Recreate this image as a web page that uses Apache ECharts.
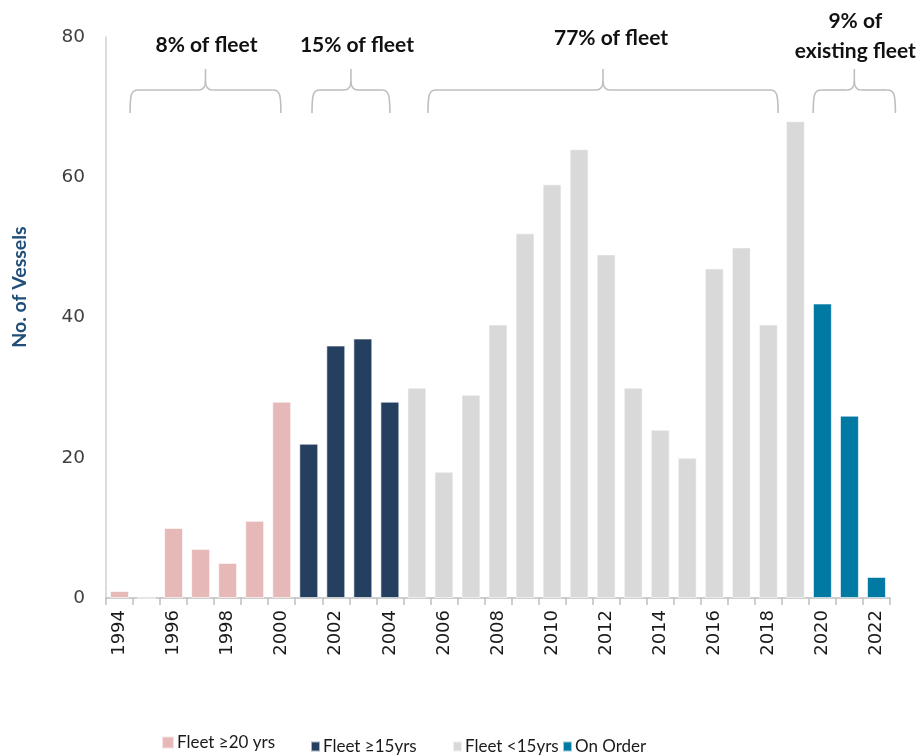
<!DOCTYPE html>
<html>
<head>
<meta charset="utf-8">
<script src="https://cdn.jsdelivr.net/npm/echarts@6/dist/echarts.min.js"></script>
<style>
  html, body { margin: 0; padding: 0; background: #ffffff; }
  #chart { width: 921px; height: 755px; }
</style>
</head>
<body>
<div id="chart"></div>
<script>
// Build years
const years = ['1994','1995','1996','1997','1998','1999','2000','2001','2002','2003','2004','2005','2006','2007',
  '2008','2009','2010','2011','2012','2013','2014','2015','2016','2017','2018','2019','2020','2021','2022'];

// Vessels by build year, split by age group ('-' = not in that group)
const fleet20Plus = [1, 0, 10, 7, 5, 11, 28, '-', '-', '-', '-', '-', '-', '-', '-', '-', '-', '-', '-', '-', '-', '-', '-', '-', '-', '-', '-', '-', '-'];
const fleet15Plus = ['-', '-', '-', '-', '-', '-', '-', 22, 36, 37, 28, '-', '-', '-', '-', '-', '-', '-', '-', '-', '-', '-', '-', '-', '-', '-', '-', '-', '-'];
const fleetUnder15 = ['-', '-', '-', '-', '-', '-', '-', '-', '-', '-', '-', 30, 18, 29, 39, 52, 59, 64, 49, 30, 24, 20, 47, 50, 39, 68, '-', '-', '-'];
const onOrder = ['-', '-', '-', '-', '-', '-', '-', '-', '-', '-', '-', '-', '-', '-', '-', '-', '-', '-', '-', '-', '-', '-', '-', '-', '-', '-', 42, 26, 3];

const seriesNames = ['Fleet ≥20 yrs', 'Fleet ≥15yrs', 'Fleet <15yrs', 'On Order'];
const seriesColors = ['#E6B9B8', '#243F60', '#D9D9D9', '#0079A3'];

const yTicks = { min: 0, max: 80, interval: 20 };

// Bracket annotations: span in category units measured from the axis start
const bracketLabels = [['8% of fleet'], ['15% of fleet'], ['77% of fleet'], ['9% of', 'existing fleet']];
const bracketSpans = [[0.89, 6.47], [7.62, 10.5], [11.91, 24.86], [26.16, 29.2]];

const chart = echarts.init(document.getElementById('chart'));

const baseFont = 'Lato, "Open Sans", sans-serif';

const dataSets = [fleet20Plus, fleet15Plus, fleetUnder15, onOrder];

function legendAt(i, left, top, w, h) {
  return {
    left: left, top: top, icon: 'rect', itemWidth: w, itemHeight: h, itemGap: 0,
    data: [seriesNames[i]],
    textStyle: { fontFamily: baseFont, fontSize: 17, color: '#1a1a1a', padding: [0, 0, 0, -2] }
  };
}

chart.setOption({
  animation: false,
  grid: { left: 106, right: 31, top: 37, bottom: 157 },
  xAxis: {
    type: 'category',
    data: years,
    boundaryGap: true,
    axisLine: { lineStyle: { color: '#BFBFBF', width: 1.5 } },
    axisTick: { show: true, interval: 0, length: 7, lineStyle: { color: '#BFBFBF', width: 1.5 } },
    axisLabel: {
      interval: 1,
      rotate: 90,
      margin: 12,
      color: '#1a1a1a',
      fontFamily: '"DejaVu Sans", sans-serif',
      fontSize: 18
    }
  },
  yAxis: {
    type: 'value',
    min: yTicks.min,
    max: yTicks.max,
    interval: yTicks.interval,
    axisLine: { show: true, lineStyle: { color: '#D0D0D0', width: 1.5 } },
    axisTick: { show: false },
    splitLine: { show: false },
    axisLabel: {
      margin: 21,
      color: '#404040',
      fontFamily: '"DejaVu Sans", sans-serif',
      fontSize: 18.5
    }
  },
  legend: [
    legendAt(0, 156, 729, 12, 12),
    legendAt(1, 305, 733, 9, 10),
    legendAt(2, 447, 733, 9, 10),
    legendAt(3, 557, 733, 9, 10)
  ],
  series: seriesNames.map((name, i) => ({
    name: name,
    type: 'bar',
    stack: 'vessels',
    barWidth: '70%',
    data: dataSets[i],
    itemStyle: { color: seriesColors[i], borderColor: 'rgba(255,255,255,0.6)', borderWidth: 1 }
  }))
});

// Draw the bracket annotations and the axis title
function drawAnnotations() {
  const p0 = chart.convertToPixel({ xAxisIndex: 0 }, 0);
  const p1 = chart.convertToPixel({ xAxisIndex: 0 }, 1);
  const band = p1 - p0;
  const axisStart = p0 - band / 2;
  const yTop = 90, yBot = 113, yTip = 69;
  const stroke = { stroke: '#BFBFBF', lineWidth: 1.6, fill: null };
  const elements = [];
  const curve = (x1, y1, c1x, c1y, c2x, c2y, x2, y2) => ({
    type: 'bezierCurve', silent: true,
    shape: { x1: x1, y1: y1, cpx1: c1x, cpy1: c1y, cpx2: c2x, cpy2: c2y, x2: x2, y2: y2 },
    style: stroke
  });
  const line = (x1, y1, x2, y2) => ({
    type: 'line', silent: true,
    shape: { x1: x1, y1: y1, x2: x2, y2: y2 },
    style: stroke
  });
  bracketSpans.forEach((span, i) => {
    const x1 = axisStart + span[0] * band;
    const x2 = axisStart + span[1] * band;
    const xm = (x1 + x2) / 2;
    elements.push(curve(x1, yBot, x1, yTop + 5, x1 + 1, yTop, x1 + 8, yTop));
    elements.push(line(x1 + 8, yTop, xm - 7, yTop));
    elements.push(curve(xm - 7, yTop, xm - 2, yTop, xm, yTop - 3, xm, yTop - 9));
    elements.push(line(xm, yTop - 9, xm, yTip));
    elements.push(curve(xm, yTop - 9, xm, yTop - 3, xm + 2, yTop, xm + 7, yTop));
    elements.push(line(xm + 7, yTop, x2 - 8, yTop));
    elements.push(curve(x2 - 8, yTop, x2 - 1, yTop, x2, yTop + 5, x2, yBot));

    const lines = bracketLabels[i];
    const cy = lines.length > 1 ? 36 : (i === 2 ? 38 : 45);
    elements.push({
      type: 'text',
      x: xm + (i === 2 ? 8 : (i === 1 ? 6 : 1)),
      y: cy,
      silent: true,
      style: {
        text: lines.join('\n'),
        fontFamily: baseFont,
        fontWeight: 'bold',
        fontSize: 21,
        lineHeight: 30,
        fill: '#111111',
        align: 'center',
        verticalAlign: 'middle'
      }
    });
  });
  elements.push({
    type: 'text',
    x: 20,
    y: 287,
    rotation: Math.PI / 2,
    silent: true,
    style: {
      text: 'No. of Vessels',
      fontFamily: baseFont,
      fontWeight: 'bold',
      fontSize: 19.5,
      fill: '#1F4E79',
      align: 'center',
      verticalAlign: 'middle'
    }
  });
  chart.setOption({ graphic: { elements: elements } });
}
drawAnnotations();
</script>
</body>
</html>
